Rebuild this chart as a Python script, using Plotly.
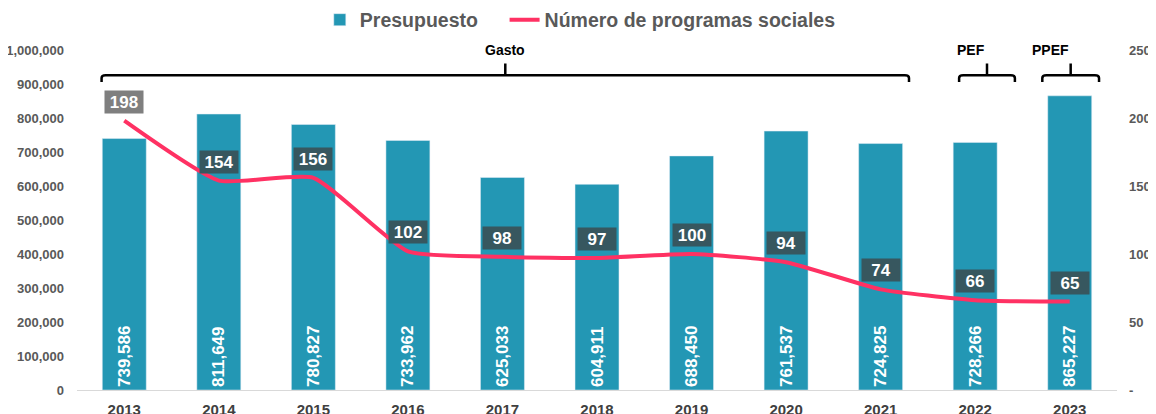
import plotly.graph_objects as go

years = ["2013", "2014", "2015", "2016", "2017", "2018", "2019", "2020", "2021", "2022", "2023"]
presupuesto = [739586, 811649, 780827, 733962, 625033, 604911, 688450, 761537, 724825, 728266, 865227]
programas = [198, 154, 156, 102, 98, 97, 100, 94, 74, 66, 65]
left_ticks = [0, 100000, 200000, 300000, 400000, 500000, 600000, 700000, 800000, 900000, 1000000]
right_ticks = [0, 50, 100, 150, 200, 250]
right_ticktext = ["-", "50", "100", "150", "200", "250"]
brackets = [("Gasto", 0, 8, -0.24, 0.30), ("PEF", 9, 9, -0.17, 0.42), ("PPEF", 10, 10, -0.29, 0.31)]

BAR = "#2397B4"
LINE = "#FF3163"
FONT = "Liberation Sans, Arial, sans-serif"

fig = go.Figure()
fig.add_trace(go.Bar(
    x=years, y=presupuesto, name="Presupuesto\u00a0\u00a0\u00a0\u00a0", marker_color=BAR,
    texttemplate="%{y:,}", textposition="inside", insidetextanchor="start",
    textangle=-90, textfont=dict(color="white", size=17, family=FONT, weight="bold"),
    hoverinfo="skip", cliponaxis=False,
))
fig.add_trace(go.Scatter(
    x=years, y=programas, name="Número de programas sociales", yaxis="y2",
    mode="lines", line=dict(color=LINE, width=4, shape="spline", smoothing=0.5),
))

for i, v in enumerate(programas):
    fig.add_annotation(
        x=i, y=v, xref="x", yref="y2", yshift=19, text=str(v), showarrow=False,
        font=dict(color="white", size=17, family=FONT, weight="bold"),
        bgcolor="#7F7F7F" if i == 0 else "#37575F", width=38, height=22, borderpad=0,
    )

n = len(years)
def px(idx):
    return (idx + 0.5) / n

y_line = 926000
y_end = 906000
y_top = 960000
shapes = []
for label, a, b, lo, hi in brackets:
    x0 = px(a + lo)
    x1 = px(b + hi)
    xm = (x0 + x1) / 2
    r = 0.004
    path = (f"M {x0},{y_end} L {x0},{y_line - 8000} Q {x0},{y_line} {x0 + r},{y_line} "
            f"L {x1 - r},{y_line} Q {x1},{y_line} {x1},{y_line - 8000} L {x1},{y_end} "
            f"M {xm},{y_line} L {xm},{y_top}")
    shapes.append(dict(type="path", path=path, xref="paper", yref="y",
                       line=dict(color="black", width=2.5)))
    fig.add_annotation(x=xm, y=y_top, xref="paper", yref="y", yshift=14, text=label,
                       showarrow=False, font=dict(color="black", size=14, family=FONT, weight="bold"))

W, H = 1148, 406
fig.update_layout(
    width=W, height=H,
    margin=dict(l=69, r=39, t=42, b=24, autoexpand=False),
    paper_bgcolor="white", plot_bgcolor="white",
    bargap=0.535,
    showlegend=True,
    legend=dict(orientation="h", x=268 / W, xanchor="left", y=1 - 12 / H, yref="container",
                yanchor="middle",
                font=dict(size=19.5, color="#595959", family=FONT, weight="bold"),
                itemwidth=30, tracegroupgap=0),
    shapes=shapes,
    xaxis=dict(type="category", range=[-0.5, 10.5], showgrid=False, showline=True,
               linecolor="#D9D9D9", linewidth=1, ticks="", ticklabelstandoff=6, automargin=False,
               tickfont=dict(size=15, color="#404040", family=FONT, weight="bold")),
    yaxis=dict(range=[0, 1000000], tickvals=left_ticks, tickformat=",", showgrid=False,
               zeroline=False, ticks="", ticklabelstandoff=12, automargin=False,
               tickfont=dict(size=13, color="#595959", family=FONT, weight="bold")),
    yaxis2=dict(range=[0, 250], overlaying="y", side="right", tickvals=right_ticks,
                ticktext=right_ticktext, showgrid=False, zeroline=False, ticks="",
                ticklabelstandoff=11, automargin=False,
                tickfont=dict(size=13, color="#595959", family=FONT, weight="bold")),
)

fig.write_html("out.html")
